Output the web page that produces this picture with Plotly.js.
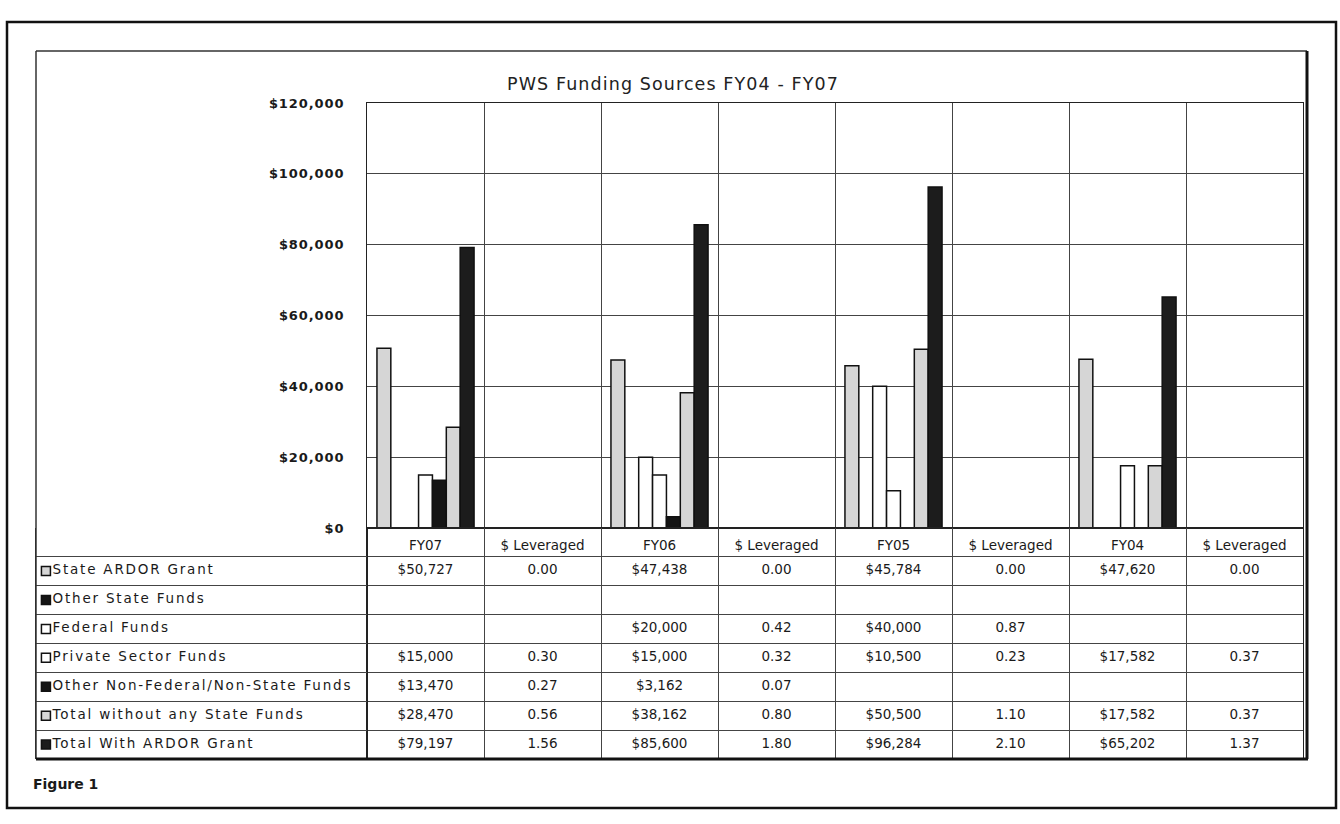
<!DOCTYPE html>
<html>
<head>
<meta charset="utf-8">
<script src="https://cdn.plot.ly/plotly-3.0.1.min.js"></script>
<style>
html,body{margin:0;padding:0;background:#fff;}
#chart{width:1340px;height:824px;}
#chart .gtitle{letter-spacing:1.1px;}
#chart .ytick text{letter-spacing:0.9px;}
#chart .x3y2 .textpoint text{letter-spacing:1.8px;}
</style>
</head>
<body>
<div id="chart"></div>
<script>
// ---- data ----
const categories = ['FY07', '$ Leveraged', 'FY06', '$ Leveraged', 'FY05', '$ Leveraged', 'FY04', '$ Leveraged'];
const seriesNames = ['State ARDOR Grant', 'Other State Funds', 'Federal Funds', 'Private Sector Funds',
  'Other Non-Federal/Non-State Funds', 'Total without any State Funds', 'Total With ARDOR Grant'];
const stateArdor   = [50727, 0.00, 47438, 0.00, 45784, 0.00, 47620, 0.00];
const otherState   = [null, null, null, null, null, null, null, null];
const federal      = [null, null, 20000, 0.42, 40000, 0.87, null, null];
const privateSec   = [15000, 0.30, 15000, 0.32, 10500, 0.23, 17582, 0.37];
const otherNonFed  = [13470, 0.27, 3162, 0.07, null, null, null, null];
const totalWithout = [28470, 0.56, 38162, 0.80, 50500, 1.10, 17582, 0.37];
const totalWith    = [79197, 1.56, 85600, 1.80, 96284, 2.10, 65202, 1.37];
const yTickValues  = [0, 20000, 40000, 60000, 80000, 100000, 120000];

const seriesValues = [stateArdor, otherState, federal, privateSec, otherNonFed, totalWithout, totalWith];
const fills = ['#d6d6d6', '#151515', '#ffffff', '#ffffff', '#151515', '#d6d6d6', '#1c1c1c'];

// ---- geometry helpers (pixels -> paper) ----
const W = 1340, H = 824;
const px = v => v / W;
const py = v => 1 - v / H;
const FONT = 'DejaVu Sans, Liberation Sans, Arial, sans-serif';

const xIdx = categories.map((c, i) => i);
const isLev = categories.map(c => c.indexOf('Leveraged') >= 0);
function fmt(v, i) {
  if (v === null || v === undefined) return '';
  return isLev[i] ? v.toFixed(2) : '$' + v.toLocaleString('en-US');
}

const traces = [];
// bars
seriesValues.forEach((vals, s) => {
  traces.push({
    type: 'bar', x: xIdx, y: vals, name: seriesNames[s],
    xaxis: 'x', yaxis: 'y',
    marker: {color: fills[s], line: {color: '#111', width: 1.5}},
    hoverinfo: 'y+name', showlegend: false
  });
});
// table cells
seriesValues.forEach((vals, s) => {
  traces.push({
    type: 'scatter', mode: 'text', xaxis: 'x', yaxis: 'y2',
    x: xIdx, y: xIdx.map(() => s + 1),
    text: vals.map((v, i) => fmt(v, i)),
    textposition: 'middle center',
    textfont: {family: FONT, size: 13.5, color: '#1a1a1a'},
    hoverinfo: 'skip', showlegend: false
  });
});
// row labels with legend keys
traces.push({
  type: 'scatter', mode: 'markers+text', xaxis: 'x3', yaxis: 'y2',
  x: seriesNames.map(() => 0.03), y: seriesNames.map((n, s) => s + 1),
  text: seriesNames,
  textposition: 'middle right',
  textfont: {family: FONT, size: 13.5, color: '#1a1a1a'},
  marker: {symbol: 'square', size: 9, color: fills, line: {color: '#111', width: 1.5}},
  cliponaxis: false, hoverinfo: 'skip', showlegend: false
});

const gridCol = '#444';
const layout = {
  width: W, height: H, autosize: false,
  margin: {l: 0, r: 0, t: 0, b: 0},
  paper_bgcolor: '#fff', plot_bgcolor: '#fff',
  font: {family: FONT, color: '#1a1a1a'},
  barmode: 'group', bargap: 0.17, bargroupgap: 0,
  showlegend: false,
  title: {text: 'PWS Funding Sources FY04 - FY07', x: px(673), xanchor: 'center',
          y: py(84), yanchor: 'middle', yref: 'paper', xref: 'paper',
          font: {size: 17.5, family: FONT, color: '#222'}},
  xaxis: {
    domain: [px(367), px(1303)], anchor: 'y',
    range: [-0.5, 7.5], tickmode: 'array', tickvals: xIdx, ticktext: categories,
    ticks: '', showgrid: false, zeroline: false,
    showline: true, linecolor: '#222', linewidth: 1, mirror: 'all',
    tickfont: {size: 13.5, color: '#1a1a1a'}, ticklabelstandoff: 5,
    minor: {tick0: -0.5, dtick: 1, showgrid: true, gridcolor: gridCol, gridwidth: 1, ticks: ''}
  },
  yaxis: {
    domain: [py(528), py(103)], anchor: 'x',
    range: [0, 120000], tickmode: 'array', tickvals: yTickValues,
    tickformat: '$,d', ticks: '',
    showgrid: true, gridcolor: gridCol, gridwidth: 1, zeroline: false,
    showline: true, linecolor: '#222', linewidth: 1, mirror: true,
    tickfont: {size: 13, color: '#1a1a1a', weight: 'bold'}, ticklabelstandoff: 19
  },
  yaxis2: {
    domain: [py(759), py(528)], anchor: 'x3',
    range: [7.5, -0.49], showticklabels: false, ticks: '', showgrid: false, zeroline: false,
    showline: true, linecolor: '#222', linewidth: 1, mirror: 'all',
    minor: {tick0: 0.5, dtick: 1, showgrid: true, gridcolor: gridCol, gridwidth: 1, ticks: ''}
  },
  xaxis3: {
    domain: [px(36), px(367)], anchor: 'y2',
    range: [0, 1], showticklabels: false, ticks: '', showgrid: false, zeroline: false,
    showline: false
  },
  shapes: [
    // outer page frame
    {type: 'rect', xref: 'paper', yref: 'paper', x0: px(7), x1: px(1336), y0: py(22), y1: py(808),
     line: {color: '#111', width: 2.5}, fillcolor: 'rgba(0,0,0,0)', layer: 'above'},
    // inner chart frame: thin top/left, thick right/bottom
    {type: 'line', xref: 'paper', yref: 'paper', x0: px(36), x1: px(1307), y0: py(51), y1: py(51),
     line: {color: '#333', width: 1.5}, layer: 'above'},
    {type: 'line', xref: 'paper', yref: 'paper', x0: px(36), x1: px(36), y0: py(51), y1: py(759),
     line: {color: '#333', width: 1.5}, layer: 'above'},
    {type: 'line', xref: 'paper', yref: 'paper', x0: px(1307), x1: px(1307), y0: py(51), y1: py(759),
     line: {color: '#111', width: 3}, layer: 'above'},
    {type: 'line', xref: 'paper', yref: 'paper', x0: px(36), x1: px(1308), y0: py(759), y1: py(759),
     line: {color: '#111', width: 3}, layer: 'above'}
  ],
  annotations: [
    {text: '<b>Figure 1</b>', xref: 'paper', yref: 'paper', x: px(31), y: py(784),
     xanchor: 'left', yanchor: 'middle', showarrow: false,
     font: {size: 14, family: FONT, color: '#1a1a1a'}}
  ]
};

Plotly.newPlot('chart', traces, layout, {staticPlot: true, displayModeBar: false});
</script>
</body>
</html>
